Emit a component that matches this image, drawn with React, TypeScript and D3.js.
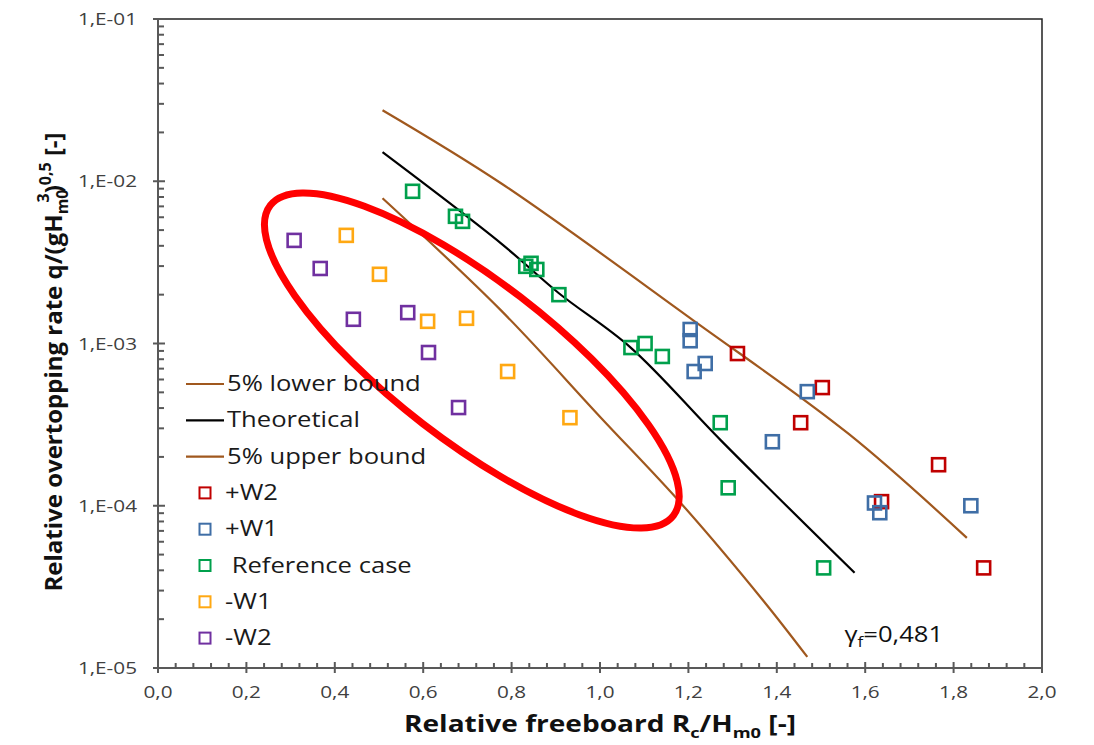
import { useEffect, useRef } from 'react';
import * as d3 from 'd3';

// axis ticks
const xTickValues = [0, 0.2, 0.4, 0.6, 0.8, 1.0, 1.2, 1.4, 1.6, 1.8, 2.0];
const xTickLabels = ['0,0', '0,2', '0,4', '0,6', '0,8', '1,0', '1,2', '1,4', '1,6', '1,8', '2,0'];
const yTickValues = [1e-5, 1e-4, 1e-3, 1e-2, 1e-1];
const yTickLabels = ['1,E-05', '1,E-04', '1,E-03', '1,E-02', '1,E-01'];

// curves
const lowerBoundX = [0.508, 0.776, 1.211, 1.562, 1.83];
const lowerBoundY = [2.74e-2, 9.72e-3, 1.39e-3, 2.78e-4, 6.34e-5];
const theoreticalX = [0.508, 0.776, 0.907, 1.07, 1.274, 1.576];
const theoreticalY = [1.51e-2, 4.14e-3, 2.04e-3, 9.4e-4, 2.52e-4, 3.86e-5];
const upperBoundX = [0.508, 0.776, 1.002, 1.184, 1.37, 1.469];
const upperBoundY = [7.85e-3, 1.6e-3, 3.49e-4, 1.03e-4, 2.59e-5, 1.17e-5];

// measured points
const w2PlusX = [1.311, 1.503, 1.454, 1.766, 1.637, 1.868];
const w2PlusY = [8.67e-4, 5.35e-4, 3.25e-4, 1.79e-4, 1.06e-4, 4.14e-5];
const w1PlusX = [1.204, 1.204, 1.213, 1.238, 1.469, 1.39, 1.621, 1.633, 1.839];
const w1PlusY = [1.22e-3, 1.04e-3, 6.72e-4, 7.53e-4, 5.05e-4, 2.48e-4, 1.04e-4, 9.06e-5, 1.0e-4];
const refX = [0.576, 0.673, 0.689, 0.832, 0.844, 0.857, 0.907, 1.07, 1.102, 1.141, 1.272, 1.29, 1.506];
const refY = [8.67e-3, 6.08e-3, 5.66e-3, 2.99e-3, 3.12e-3, 2.86e-3, 2.0e-3, 9.44e-4, 1.0e-3, 8.32e-4, 3.25e-4, 1.29e-4, 4.14e-5];
const w1MinusX = [0.426, 0.501, 0.61, 0.698, 0.791, 0.932];
const w1MinusY = [4.64e-3, 2.67e-3, 1.37e-3, 1.43e-3, 6.72e-4, 3.49e-4];
const w2MinusX = [0.308, 0.367, 0.442, 0.565, 0.612, 0.68];
const w2MinusY = [4.32e-3, 2.9e-3, 1.41e-3, 1.55e-3, 8.8e-4, 4.03e-4];

// highlighted ellipse tips (data units)
const ellipseTipX = [0.254, 1.166];
const ellipseTipY = [7.1e-3, 8.7e-5];

const BROWN = '#a0581e';
const FONT = "'Open Sans', sans-serif";
const STRETCH = 1.22; // source picture is stretched horizontally

const lines = [
  { name: '5% lower bound', xs: lowerBoundX, ys: lowerBoundY, color: BROWN },
  { name: 'Theoretical', xs: theoreticalX, ys: theoreticalY, color: '#000000' },
  { name: '5% upper bound', xs: upperBoundX, ys: upperBoundY, color: BROWN },
];

const series = [
  { name: '+W2', xs: w2PlusX, ys: w2PlusY, color: '#c00000' },
  { name: '+W1', xs: w1PlusX, ys: w1PlusY, color: '#3f6ea6' },
  { name: '\u00a0Reference case', xs: refX, ys: refY, color: '#00a04c' },
  { name: '-W1', xs: w1MinusX, ys: w1MinusY, color: '#ffa812' },
  { name: '-W2', xs: w2MinusX, ys: w2MinusY, color: '#7030a0' },
];

export default function App() {
  const svgRef = useRef<SVGSVGElement | null>(null);

  useEffect(() => {
    if (!svgRef.current) return;
    const svg = d3.select(svgRef.current);
    svg.selectAll('*').remove();

    const left = 158, right = 1042, top = 19, bottom = 668;
    const x = d3.scaleLinear().domain([0, 2]).range([left, right]);
    const y = d3.scaleLog().domain([1e-5, 1e-1]).range([bottom, top]);

    // text placed at (tx, ty), widened like the source
    const label = (g: any, tx: number, ty: number, size: number) =>
      g.append('text')
        .attr('transform', `translate(${tx},${ty}) scale(${STRETCH},1)`)
        .attr('font-family', FONT)
        .attr('font-size', size);

    // plot frame (top / right)
    svg.append('path')
      .attr('d', `M${left},${top}H${right}V${bottom}`)
      .attr('fill', 'none')
      .attr('stroke', '#222')
      .attr('stroke-width', 1.5);

    // curves
    const line = d3.line<[number, number]>()
      .x(d => x(d[0]))
      .y(d => y(d[1]))
      .curve(d3.curveCatmullRom);

    lines.forEach(l => {
      svg.append('path')
        .datum(l.xs.map((v, i) => [v, l.ys[i]] as [number, number]))
        .attr('fill', 'none')
        .attr('stroke', l.color)
        .attr('stroke-width', 2.2)
        .attr('d', line);
    });

    // points
    const sq = 13;
    series.forEach(s => {
      svg.append('g')
        .selectAll('rect')
        .data(s.xs.map((v, i) => [v, s.ys[i]]))
        .enter()
        .append('rect')
        .attr('x', d => x(d[0]) - sq / 2)
        .attr('y', d => y(d[1]) - sq / 2)
        .attr('width', sq)
        .attr('height', sq)
        .attr('fill', 'none')
        .attr('stroke', s.color)
        .attr('stroke-width', 2.6);
    });

    // red ellipse
    const x1 = x(ellipseTipX[0]), y1 = y(ellipseTipY[0]);
    const x2 = x(ellipseTipX[1]), y2 = y(ellipseTipY[1]);
    const angle = Math.atan2(y2 - y1, x2 - x1) * 180 / Math.PI;
    svg.append('ellipse')
      .attr('cx', (x1 + x2) / 2)
      .attr('cy', (y1 + y2) / 2)
      .attr('rx', Math.hypot(x2 - x1, y2 - y1) / 2)
      .attr('ry', 80)
      .attr('transform', `rotate(${angle},${(x1 + x2) / 2},${(y1 + y2) / 2})`)
      .attr('fill', 'none')
      .attr('stroke', '#ff0000')
      .attr('stroke-width', 7);

    // axes
    const axisColor = '#595959';
    const gx = svg.append('g');
    gx.append('line')
      .attr('x1', left).attr('x2', right).attr('y1', bottom).attr('y2', bottom)
      .attr('stroke', axisColor).attr('stroke-width', 2);
    d3.range(0, 51).forEach(i => {
      const v = i * 0.04;
      const major = i % 5 === 0;
      gx.append('line')
        .attr('x1', x(v)).attr('x2', x(v))
        .attr('y1', major ? bottom - 6 : bottom - 5)
        .attr('y2', major ? bottom + 5 : bottom)
        .attr('stroke', axisColor).attr('stroke-width', 2);
    });
    xTickValues.forEach((v, i) => {
      label(gx, x(v), bottom + 30, 17)
        .attr('text-anchor', 'middle')
        .attr('fill', '#404040')
        .text(xTickLabels[i]);
    });

    const gy = svg.append('g');
    gy.append('line')
      .attr('x1', left).attr('x2', left).attr('y1', top).attr('y2', bottom)
      .attr('stroke', axisColor).attr('stroke-width', 2);
    yTickValues.forEach((v, i) => {
      gy.append('line')
        .attr('x1', left - 5).attr('x2', left + 7)
        .attr('y1', y(v)).attr('y2', y(v))
        .attr('stroke', axisColor).attr('stroke-width', 2);
      if (i < yTickValues.length - 1) {
        d3.range(2, 10).forEach(m => {
          gy.append('line')
            .attr('x1', left).attr('x2', left + 6)
            .attr('y1', y(v * m)).attr('y2', y(v * m))
            .attr('stroke', axisColor).attr('stroke-width', 2);
        });
      }
      label(gy, left - 21, y(v) + 6, 17)
        .attr('text-anchor', 'end')
        .attr('fill', '#404040')
        .text(yTickLabels[i]);
    });

    // x title
    const xt = label(svg, 600, 732, 23)
      .attr('text-anchor', 'middle')
      .attr('font-weight', 'bold')
      .attr('fill', '#111');
    xt.append('tspan').text('Relative freeboard  R');
    xt.append('tspan').attr('dy', 6).attr('font-size', 15).text('c');
    xt.append('tspan').attr('dy', -6).text('/H');
    xt.append('tspan').attr('dy', 6).attr('font-size', 15).text('m0');
    xt.append('tspan').attr('dy', -6).text(' [-]');

    // y title
    const yt = svg.append('text')
      .attr('transform', 'translate(62,362) rotate(-90)')
      .attr('text-anchor', 'middle')
      .attr('font-family', FONT).attr('font-size', 24)
      .attr('font-weight', 'bold')
      .attr('fill', '#111');
    yt.append('tspan').text('Relative overtopping rate q/(gH');
    yt.append('tspan').attr('dy', 6).attr('font-size', 16).text('m0');
    yt.append('tspan').attr('dy', -19).attr('dx', -13).attr('font-size', 16).text('3');
    yt.append('tspan').attr('dy', 13).text(')');
    yt.append('tspan').attr('dy', -11).attr('font-size', 16).text('0,5');
    yt.append('tspan').attr('dy', 11).text(' [-]');

    // gamma annotation
    const gt = label(svg, x(1.553), y(1.45e-5), 21).attr('fill', '#111');
    gt.append('tspan').text('γ');
    gt.append('tspan').attr('dy', 5).attr('font-size', 14).text('f');
    gt.append('tspan').attr('dy', -5).text('=0,481');

    // legend
    const lg = svg.append('g').attr('fill', '#1a1a1a');
    const rowY = (i: number) => 384 + i * 36.3;
    lines.forEach((l, i) => {
      lg.append('line')
        .attr('x1', 186).attr('x2', 224)
        .attr('y1', rowY(i)).attr('y2', rowY(i))
        .attr('stroke', l.color).attr('stroke-width', 2.2);
      label(lg, 227, rowY(i) + 7, 21).text(l.name);
    });
    series.forEach((s, j) => {
      const i = j + lines.length;
      lg.append('rect')
        .attr('x', 205 - 5.5).attr('y', rowY(i) - 5.5)
        .attr('width', 11).attr('height', 11)
        .attr('fill', 'none')
        .attr('stroke', s.color).attr('stroke-width', 2);
      label(lg, 225, rowY(i) + 7, 21).text(s.name);
    });
  }, []);

  return (
    <svg
      ref={svgRef}
      width={1094}
      height={745}
      style={{ position: 'absolute', left: 0, top: 0, background: '#fff' }}
    />
  );
}
